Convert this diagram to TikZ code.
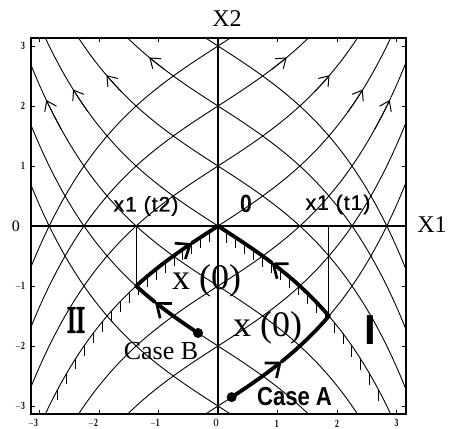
\documentclass[tikz,border=0pt]{standalone}
\usepackage{fontspec}
\setmainfont{Liberation Serif}
\newfontfamily\sansf{Liberation Sans}
\newfontfamily\sansls[LetterSpace=5,FakeBold=1]{Liberation Sans}
\newfontfamily\heavyserif[FakeBold=4]{Liberation Serif}
\usetikzlibrary{arrows.meta}
\newcommand\myfs[1]{\fontsize{#1}{#1}\selectfont}
\begin{document}
\begin{tikzpicture}[x=59.5pt,y=60pt,
  curve/.style={line width=0.9pt},
  framebox/.style={line width=1.7pt},
  axisline/.style={line width=1.1pt},
  hatch/.style={line width=0.9pt},
  framelabel/.style={line width=0.9pt},
  thickpath/.style={line width=3.8pt, line cap=round, line join=round},
  thinarrow/.style={line width=0.9pt, -{Straight Barb[length=9pt,width=13pt,line width=1pt]}},
  bigarrow/.style={thickpath, -{Straight Barb[length=12pt,width=19pt,line width=2.7pt]}},
  dotnode/.style={circle, fill, inner sep=0pt, minimum size=10pt},
  ticklbl/.style={font=\sansf\bfseries\myfs{11}, inner sep=0pt},
  axislbl/.style={font=\myfs{24}, inner sep=0pt},
  ptlbl/.style={font=\sansls\myfs{21}, inner sep=0pt},
  statelbl/.style={font=\myfs{36}, inner sep=0pt}
]
\useasboundingbox (-3.6639,-3.3833) rectangle (4.0504,3.7667);

% trajectory families
\begin{scope}
\clip (-3.14,-3.13) rectangle (3.16,3.13);
\foreach \c in {-3,...,3}{
  \draw[curve] plot[domain=-3.14:3.16,samples=90,smooth] (\x,{\c+sinh(\x/1.56)});
  \draw[curve] plot[domain=-3.14:3.16,samples=90,smooth] (\x,{\c-sinh(\x/1.56)});
}
\end{scope}

% axes and frame
\draw[axisline] (-3.14,0) -- (3.16,0);
\draw[axisline] (0,-3.13) -- (0,3.13);
\draw[framebox] (-3.14,-3.13) rectangle (3.16,3.13);
\foreach \i in {-3,...,3}{
  \draw[framelabel] (\i,-3.13) -- ++(0,0.07);
  \draw[framelabel] (\i,3.13) -- ++(0,-0.07);
  \draw[framelabel] (-3.14,\i) -- ++(0.07,0);
  \draw[framelabel] (3.16,\i) -- ++(-0.07,0);
}

% arrows on the grid curves
\foreach \xa/\c in {-2.885/-1,-2.435/0,-1.875/1,-1.155/2}{
  \pgfmathsetmacro\xb{\xa+0.25}
  \draw[thinarrow] plot[domain=\xb:\xa,samples=10] (\x,{\c-sinh(\x/1.56)});
}
\foreach \xa/\c in {2.885/-1,2.435/0,1.875/1,1.155/2}{
  \pgfmathsetmacro\xb{\xa-0.25}
  \draw[thinarrow] plot[domain=\xb:\xa,samples=10] (\x,{\c+sinh(\x/1.56)});
}

% hatching of the switching curve
\foreach \t in {0.15,0.30,...,2.76}
  \draw[hatch] (\t,{-sinh(\t/1.56)}) -- ++(0,-0.18);
\foreach \t in {-0.14,-0.29,...,-2.76}
  \draw[hatch] (\t,{sinh(\t/1.56)}) -- ++(0,-0.18);

% switching points and marker lines
\coordinate (S1) at (1.8639,-1.5);
\coordinate (S1a) at (1.8639,0);
\coordinate (S2) at (-1.3749,-1);
\coordinate (S2a) at (-1.3749,0);
\draw[curve] (S1a) -- (S1);
\draw[curve] (S2a) -- (S2);

% Case A
\node[dotnode] (startA) at (0.23,-2.852) {};
\draw[bigarrow] plot[domain=0.23:1.07,samples=20] (\x,{-3+sinh(\x/1.56)});
\draw[bigarrow] plot[domain=1.07:1.8639,samples=20] (\x,{-3+sinh(\x/1.56)})
   -- plot[domain=1.8639:0.90,samples=20] (\x,{-sinh(\x/1.56)});
\draw[thickpath] plot[domain=0.90:0,samples=20] (\x,{-sinh(\x/1.56)});

% Case B
\node[dotnode] (startB) at (-0.336,-1.783) {};
\draw[bigarrow] plot[domain=-0.336:-1.06,samples=20] (\x,{-2-sinh(\x/1.56)});
\draw[bigarrow] plot[domain=-1.06:-1.3749,samples=10] (\x,{-2-sinh(\x/1.56)})
   -- plot[domain=-1.3749:-0.44,samples=20] (\x,{sinh(\x/1.56)});
\draw[thickpath] plot[domain=-0.44:0,samples=10] (\x,{sinh(\x/1.56)});

% axis titles
\node[axislbl] (X2) at (0.151,3.45) {X2};
\node[axislbl] (X1) at (3.597,0.03) {X1};
\node[font=\myfs{16}, inner sep=0pt] (y0) at (-3.395,0) {0};

% tick labels
\foreach \v/\n in {3/t3,2/t2,1/t1,-1/tm1,-2/tm2,-3/tm3}
  \node[ticklbl, anchor=east] (\n) at (-3.24,\v) {\scalebox{0.7}[1]{$\mathbf{\v}$}};
\foreach \xv/\v/\n in {-3.11/-3/b3,-2.10/-2/b2,-1.06/-1/b1,0.99/1/c1,2.0/2/c2,3.0/3/c3}
  \node[ticklbl] (\n) at (\xv,-3.29) {\scalebox{0.7}[1]{$\mathbf{\v}$}};
\node[font=\myfs{11}, inner sep=0pt] (b0) at (-0.03,-3.28) {0};

% point labels
\node[ptlbl] (lt2) at (-1.21,0.333) {x1 (t2)};
\node[ptlbl] (lt1) at (2.017,0.36) {x1 (t1)};
\node[font=\sansf\bfseries\myfs{25}, inner sep=0pt] (orig) at (0.471,0.367) {\scalebox{0.85}[1]{0}};
\node[statelbl] (xb) at (-0.193,-0.917) {x (0)};
\node[statelbl] (xa) at (0.832,-1.69) {x (0)};
\node[font=\sansf\bfseries\myfs{26}, inner sep=0pt] (caseA) at (1.286,-2.85) {\scalebox{0.85}[1]{Case A}};
\node[font=\myfs{26}, inner sep=0pt] (caseB) at (-0.958,-2.083) {Case B};
\node[font=\heavyserif\myfs{38}, inner sep=0pt] (reg2) at (-2.387,-1.567) {\scalebox{0.72}[1]{II}};
\node[font=\sansf\bfseries\myfs{42}, inner sep=0pt] (reg1) at (2.555,-1.733) {I};
\end{tikzpicture}
\end{document}
